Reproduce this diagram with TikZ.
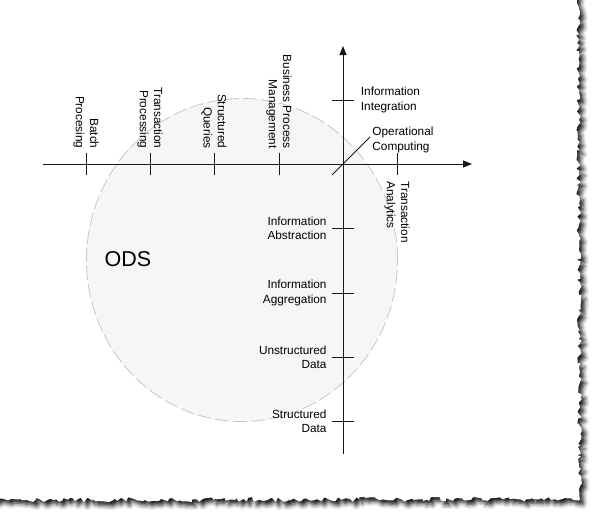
\documentclass[tikz,border=0pt]{standalone}
\usepackage{fontspec}
\setmainfont{Liberation Sans}
\usepackage{tikz}
\usetikzlibrary{positioning,arrows.meta,calc,shapes.geometric,decorations.pathmorphing,shadows.blur}

\begin{document}
\begin{tikzpicture}[
  x=1pt,y=-1pt,
  font=\fontsize{11.8}{14.3}\selectfont,
  axis/.style={line width=0.9pt,draw=black!90,
               -{Triangle[length=9pt,width=7pt]}},
  tick/.style={line width=0.9pt,draw=black!90},
  toplab/.style={rotate=-90,align=right,anchor=east,inner sep=4pt},
  botlab/.style={rotate=-90,align=left,anchor=west,inner sep=6pt},
  leftlab/.style={align=right,anchor=east,inner sep=5pt},
  rightlab/.style={align=left,anchor=west,inner sep=6.5pt},
  zone/.style={draw=black!22,fill=black!3.5,line width=0.8pt,
               dash pattern=on 14pt off 4pt}
]
\useasboundingbox (0,0) rectangle (594,517);
% ---- Torn paper ----
\pgfmathsetseed{11}
\fill[white,blur shadow={shadow xshift=3.5pt,shadow yshift=-4pt,
      shadow blur radius=4.5pt,shadow opacity=95}]
  (-10,-10) -- (578,-10)
  decorate[decoration={random steps,segment length=3pt,amplitude=2.4pt}]
    {-- (580,499) -- (-10,500)} -- cycle;
% ---- ODS zone ----
\node[zone,ellipse,minimum width=311pt,minimum height=323pt] (zonebg)
  at (242,260) {};
\node[font=\fontsize{21.5}{24}\selectfont] (ods) at (128,259) {ODS};
% ---- Axes ----
\coordinate (O)  at (343,164);
\coordinate (xl) at (43,164);
\coordinate (xr) at (472,164);
\coordinate (yb) at (343,454);
\coordinate (yt) at (343,46);
\draw[axis] (xl) -- (xr);
\draw[axis] (yb) -- (yt);
% ---- Horizontal ticks ----
\coordinate (tb) at (86,164);
\coordinate (tp) at (150,164);
\coordinate (tq) at (214,164);
\coordinate (tm) at (279,164);
\coordinate (ta) at (397,164);
\draw[tick] (tb) ++(0,11) -- ++(0,-22) node[toplab] (batch) {Batch\\Procesing};
\draw[tick] (tp) ++(0,11) -- ++(0,-22) node[toplab] (trproc) {Transaction\\Processing};
\draw[tick] (tq) ++(0,11) -- ++(0,-22) node[toplab] (squery) {Structured\\Queries};
\draw[tick] (tm) ++(0,11) -- ++(0,-22) node[toplab] (bpm) {Business Process\\Management};
\draw[tick] (ta) ++(0,-11) -- ++(0,22) node[botlab] (tranal) {Transaction\\Analytics};
% ---- Vertical ticks ----
\coordinate (yi) at (343,100);
\coordinate (ya) at (343,228);
\coordinate (yg) at (343,293);
\coordinate (yu) at (343,357);
\coordinate (ys) at (343,421);
\draw[tick] (yi) ++(-11,0) -- ++(22,0) node[rightlab] (infint) {Information\\Integration};
\draw[tick] (ya) ++(11,0) -- ++(-22,0) node[leftlab] (infabs) {Information\\Abstraction};
\draw[tick] (yg) ++(11,0) -- ++(-22,0) node[leftlab] (infagg) {Information\\Aggregation};
\draw[tick] (yu) ++(11,0) -- ++(-22,0) node[leftlab] (unstr) {Unstructured\\Data};
\draw[tick] (ys) ++(11,0) -- ++(-22,0) node[leftlab] (struc) {Structured\\Data};
% ---- Diagonal ----
\draw[tick] (O) ++(-11,11) -- ++(38,-38)
  node[rightlab,inner sep=2pt,yshift=-3pt] (opcomp) {Operational\\Computing};
\end{tikzpicture}
\end{document}
